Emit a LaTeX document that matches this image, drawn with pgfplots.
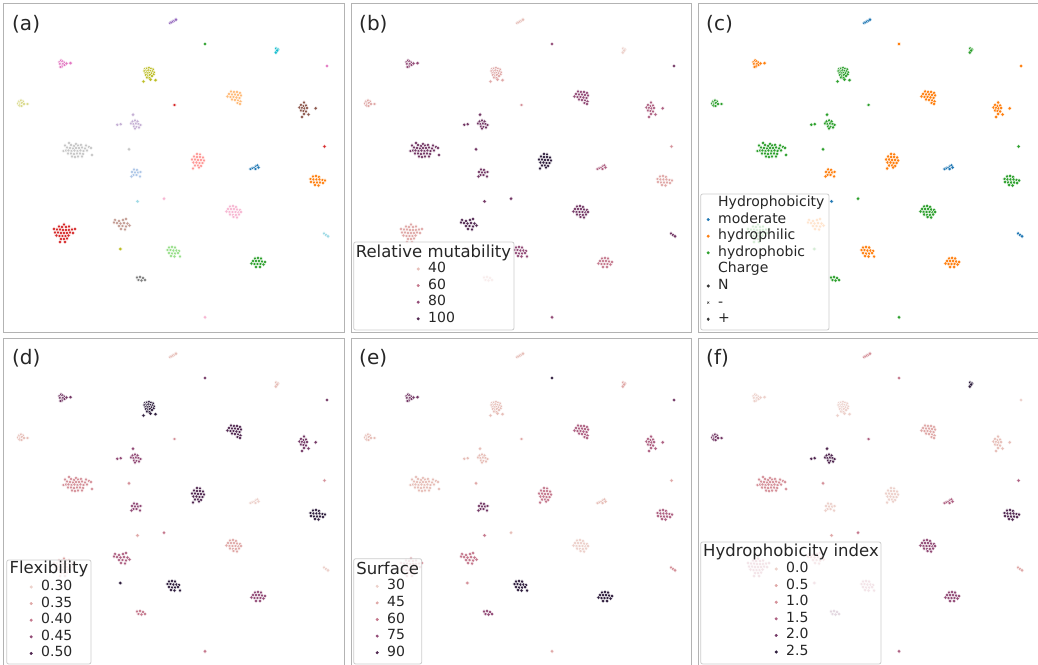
\documentclass[border=0pt]{standalone}
\usepackage{pgfplots}
\pgfplotsset{compat=1.18}
\usepackage{pgfplotstable}
\usepackage{fontspec}
\setmainfont{DejaVu Sans}
\definecolor{tabblue}{HTML}{1F77B4}
\definecolor{taborange}{HTML}{FF7F0E}
\definecolor{tabgreen}{HTML}{2CA02C}
\definecolor{tabred}{HTML}{D62728}
\definecolor{tabpurple}{HTML}{9467BD}
\definecolor{tabbrown}{HTML}{8C564B}
\definecolor{tabpink}{HTML}{E377C2}
\definecolor{tabgray}{HTML}{7F7F7F}
\definecolor{tabolive}{HTML}{BCBD22}
\definecolor{tabcyan}{HTML}{17BECF}
\definecolor{lblue}{HTML}{AEC7E8}
\definecolor{lorange}{HTML}{FFBB78}
\definecolor{lgreen}{HTML}{98DF8A}
\definecolor{lred}{HTML}{FF9896}
\definecolor{lpurple}{HTML}{C5B0D5}
\definecolor{lbrown}{HTML}{C49C94}
\definecolor{lpink}{HTML}{F7B6D2}
\definecolor{lgray}{HTML}{C7C7C7}
\definecolor{lolive}{HTML}{DBDB8D}
\definecolor{lcyan}{HTML}{9EDAE5}
\definecolor{L0}{RGB}{242,222,214}
\definecolor{L1}{RGB}{237,209,203}
\definecolor{L2}{RGB}{231,190,184}
\definecolor{L3}{RGB}{224,168,167}
\definecolor{L4}{RGB}{213,144,153}
\definecolor{L5}{RGB}{197,120,141}
\definecolor{L6}{RGB}{174,96,130}
\definecolor{L7}{RGB}{146,74,118}
\definecolor{L8}{RGB}{115,55,101}
\definecolor{L9}{RGB}{80,38,80}
\definecolor{L10}{RGB}{45,28,60}
\definecolor{txt}{HTML}{262626}
\definecolor{dkgray}{HTML}{333333}
\definecolor{framegray}{HTML}{B3B3B3}
\definecolor{legframe}{HTML}{CCCCCC}

\pgfplotstableread{
x y k
166 19 1
167.5 18.2 1
169 17.3 1
170.5 16.5 1
172 15.6 1
201 40 2
272 44.5 3
273.8 45.5 3
272.6 47 3
271.8 48.5 3
273.2 46.5 3
323 62 4
55.5 58 5
57 56.5 5
58.5 57.5 5
60 58.5 5
56 60 5
57.5 61 5
59 60 5
60.5 61 5
58 62.5 5
56.5 63 5
62.5 59.5 5
66.5 59.2 5
141 65 6
143 64.5 6
145 64 6
147 64.8 6
149 65.5 6
140.5 67 6
142.5 67 6
144.5 66.5 6
146.5 67 6
148.5 67.5 6
150 68.5 6
141.5 69 6
143.5 69 6
145.5 69 6
147.5 69.5 6
149.5 70.5 6
142 71 6
144 71.5 6
146 71 6
148 72 6
143 73.5 6
145.5 74 6
139.5 77.5 6
146.5 75.7 6
151.5 76.2 6
15 97.5 7
17 96.5 7
19 97.5 7
14 99.5 7
16 99.5 7
18 99 7
20 100 7
15.5 101.5 7
17.5 102 7
23.5 100 7
170.5 101 8
227 87.5 9
230 88 9
233 88 9
236 89 9
225 90 9
228 90.5 9
231 90.5 9
234 91 9
237 91.5 9
223.5 92.5 9
226.5 93 9
229.5 93 9
232.5 93.5 9
235.5 94 9
228 95.5 9
231 96 9
234 96.5 9
236.5 97.5 9
233.5 99 9
236 100 9
300 98.5 10
297 101 10
299.5 102 10
302 101.5 10
295.5 103.5 10
298 104 10
300.5 104.5 10
303 104 10
297 106.5 10
299.5 107 10
302 107.5 10
300 110 10
304.5 110.5 10
298 113 10
311.7 104.3 10
129 110.7 11
113.3 120.8 11
116.7 120.2 11
128.5 117.5 11
131 116.5 11
133.5 117.5 11
127 119.5 11
129.5 120 11
132 119.5 11
134.5 120 11
136.5 121 11
130 122.5 11
132.5 123 11
135 123.5 11
131 124.5 11
125 145.3 12
65 139 13
72 140 13
61 141.5 13
67 141 13
70 142 13
74 141.5 13
77 141 13
82 141.5 13
85 143 13
63 143.5 13
66 144 13
69 144.5 13
72 144 13
75 144 13
78 143.5 13
81 144.5 13
87 144 13
59.5 147 13
62 146.5 13
64.5 146.5 13
67.5 147 13
70.5 146.5 13
73.5 147 13
76.5 146.5 13
79.5 147 13
83 146.5 13
64 149.5 13
67 149.5 13
70 150 13
73 149.5 13
76 149.5 13
79 150 13
88 151 13
68 152.5 13
71 153 13
74 152.5 13
78 152.5 13
193 150 14
196 150.5 14
190 152.5 14
193 153 14
196 153 14
199 153.5 14
188 155.5 14
191 155.5 14
194 156 14
197 156 14
200 156.5 14
189.5 158.5 14
192.5 158.5 14
195.5 159 14
198.5 159 14
191 161.5 14
194 161.5 14
197 162 14
189 164.5 14
195 163.5 14
320.5 142.5 15
246.5 165 16
248.5 164 16
250.5 163.5 16
252 162 16
253.5 161.5 16
254.5 163.5 16
251.5 165 16
130 165.5 17
133 166 17
128 168 17
131 168.5 17
134 168.5 17
136.5 168 17
129.5 171 17
132.5 171 17
136 172.5 17
127.5 172.5 17
309 172.5 18
312 172 18
315 173 18
306.5 175 18
309.5 175.5 18
312.5 175.5 18
315.5 175.5 18
318.5 176 18
321 176.5 18
307 178 18
310 178.5 18
313 178.5 18
316 178.5 18
319 179 18
311 181 18
314.5 181.5 18
160 194.7 19
133.5 197.3 20
226 202.5 21
229 202 21
232 203 21
224 205 21
227 205 21
230 205 21
233 205.5 21
236 206 21
222.5 207.5 21
225.5 208 21
228.5 208 21
231.5 208 21
234.5 208.5 21
226 210.5 21
229 211 21
232 211 21
235 210.5 21
229.5 213 21
233 213.5 21
237 208 21
111 216 22
115 217 22
119 216 22
122 215 22
113 219 22
116.5 219.5 22
120 219 22
123.5 219.5 22
110 218.5 22
115 222 22
118.5 222 22
122 222.5 22
125.5 221.5 22
117 225 22
121 225.5 22
60 220.5 23
55 222.5 23
58 223 23
62 223 23
65 222.5 23
50 225 23
53 225.5 23
56 225.5 23
59 226 23
62 226 23
65 226 23
68 225.5 23
71 225 23
51 228.5 23
54 228.5 23
57 229 23
60 229 23
63 229 23
66 228.5 23
69 229 23
52.5 231.5 23
55.5 232 23
58.5 232 23
61.5 232 23
64.5 231.5 23
57 235 23
60 235 23
63 234.5 23
56 238 23
61 238 23
320 229.5 24
322 231 24
324 232.3 24
165 243.5 25
168 243 25
171 243.5 25
163.5 246 25
166.5 246 25
169.5 246.5 25
172.5 246.5 25
175 247 25
165 249 25
168 249.5 25
171 249.5 25
174 249 25
167 252 25
170.5 252.5 25
176 252.5 25
116.3 245 26
251 254.5 27
254 254 27
257 254.5 27
249 257 27
252 257 27
255 257 27
258 257.5 27
261 258 27
247.5 259.5 27
250.5 260 27
253.5 260 27
256.5 260 27
259.5 260.5 27
252 263 27
256 263 27
133 273.5 28
136 273 28
139 274 28
134.5 276 28
137.5 276.5 28
141 276 28
201 313.3 29
}\pts

\pgfplotsset{
  panel/.style={width=340pt,height=328pt,scale only axis,
    xmin=0,xmax=340,ymin=0,ymax=328,y dir=reverse,
    xtick=\empty,ytick=\empty,
    axis line style={draw=framegray,line width=1pt},
    clip=true,clip marker paths=true,
    legend cell align=left,
    legend style={draw=none,fill=none,inner sep=0pt,outer sep=0pt,
      column sep=8.5pt,row sep=3.6pt,
      font=\fontsize{14}{16}\selectfont,text=txt,
      nodes={inner sep=0pt,outer sep=0pt,text height=10pt,text depth=3pt},
      anchor=north west}},
  pts/.style={scatter,only marks,mark=*,mark size=1.95pt,draw=white,line width=0.3pt,
    scatter src=explicit symbolic,forget plot},
}
\tikzset{
  lab/.style={anchor=west,inner sep=0pt,font=\fontsize{20}{24}\selectfont,text=txt},
  ttl/.style={anchor=center,inner sep=0pt,font=\fontsize{16.5}{19}\selectfont,text=txt},
  legbox/.style={fill=white,fill opacity=0.8,draw=legframe,line width=0.8pt,rounded corners=2pt},
}
\newcommand{\lgdot}[1]{\addlegendimage{legend image code/.code={\fill[#1] (0pt,0pt) circle (1.3pt);}}}

\begin{document}
\begin{tikzpicture}
\path[use as bounding box] (0,0) rectangle (1038pt,664pt);

% (a)
\begin{axis}[panel,at={(4pt,660pt)},anchor=north west]
\addplot[pts,scatter/classes={
1={fill=tabpurple},2={fill=tabgreen},3={fill=tabcyan},4={fill=tabpink},5={fill=tabpink},
6={fill=tabolive},7={fill=lolive},8={fill=tabred},9={fill=lorange},10={fill=tabbrown},
11={fill=lpurple},12={fill=lgray},13={fill=lgray},14={fill=lred},15={fill=tabred},
16={fill=tabblue},17={fill=lblue},18={fill=taborange},19={fill=lpink},20={fill=lcyan},
21={fill=lpink},22={fill=lbrown},23={fill=tabred},24={fill=lcyan},25={fill=lgreen},
26={fill=tabolive},27={fill=tabgreen},28={fill=tabgray},29={fill=lpink}}]
table[x=x,y=y,meta=k]{\pts};
\node[lab] at (axis cs:8,20.5) {(a)};
\end{axis}

% (b)
\begin{axis}[panel,at={(351pt,660pt)},anchor=north west,
  legend style={at={(axis cs:65.7,258.5)}}]
\addplot[pts,scatter/classes={
1={fill=L2},2={fill=L7},3={fill=L1},4={fill=L8},5={fill=L7},
6={fill=L3},7={fill=L3},8={fill=L4},9={fill=L7},10={fill=L6},
11={fill=L8},12={fill=L8},13={fill=L8},14={fill=L10},15={fill=L4},
16={fill=L6},17={fill=L8},18={fill=L3},19={fill=L8},20={fill=L8},
21={fill=L8},22={fill=L9},23={fill=L3},24={fill=L8},25={fill=L7},
26={fill=L7},27={fill=L5},28={fill=L3},29={fill=L7}}]
table[x=x,y=y,meta=k]{\pts};
\node[lab] at (axis cs:8,20.5) {(b)};
\draw[legbox] (axis cs:2.7,238) rectangle (axis cs:163,326);
\node[ttl] at (axis cs:82.5,248.5) {Relative mutability};
\lgdot{L2}\addlegendentry{40}
\lgdot{L5}\addlegendentry{60}
\lgdot{L7}\addlegendentry{80}
\lgdot{L9}\addlegendentry{100}
\end{axis}

% (c)
\begin{axis}[panel,at={(698pt,660pt)},anchor=north west,
  legend style={at={(axis cs:8.7,192.5)}}]
\addplot[pts,scatter/classes={
1={fill=tabblue},2={mark=x,draw=taborange,line width=0.8pt,mark size=1.7pt},3={fill=tabgreen},4={fill=taborange},5={fill=taborange},
6={fill=tabgreen},7={fill=tabgreen},8={fill=tabgreen},9={fill=taborange},10={fill=taborange},
11={fill=tabgreen},12={fill=tabgreen},13={fill=tabgreen},14={fill=taborange},15={fill=tabgreen},
16={fill=tabblue},17={fill=taborange},18={fill=tabgreen},19={fill=tabgreen},20={fill=tabblue},
21={fill=tabgreen},22={fill=taborange},23={fill=tabgreen},24={fill=tabblue},25={fill=taborange},
26={fill=tabgreen},27={fill=taborange},28={fill=tabgreen},29={fill=tabgreen}}]
table[x=x,y=y,meta=k]{\pts};
\node[lab] at (axis cs:8,20.5) {(c)};
\draw[legbox] (axis cs:2.7,190) rectangle (axis cs:131,326);
\addlegendimage{empty legend}\addlegendentry{Hydrophobicity}
\lgdot{tabblue}\addlegendentry{moderate}
\lgdot{taborange}\addlegendentry{hydrophilic}
\lgdot{tabgreen}\addlegendentry{hydrophobic}
\addlegendimage{empty legend}\addlegendentry{Charge}
\lgdot{dkgray}\addlegendentry{N}
\addlegendimage{legend image code/.code={\draw[dkgray,line width=0.5pt] (-1pt,-1pt)--(1pt,1pt) (-1pt,1pt)--(1pt,-1pt);}}\addlegendentry{-}
\addlegendimage{legend image code/.code={\fill[dkgray] (0pt,1.4pt)--(1.2pt,0pt)--(0pt,-1.4pt)--(-1.2pt,0pt)--cycle;}}\addlegendentry{+}
\end{axis}

% (d)
\begin{axis}[panel,at={(4pt,326pt)},anchor=north west,
  legend style={at={(axis cs:25.7,242.5)}}]
\addplot[pts,scatter/classes={
1={fill=L2},2={fill=L8},3={fill=L2},4={fill=L8},5={fill=L8},
6={fill=L10},7={fill=L2},8={fill=L4},9={fill=L9},10={fill=L8},
11={fill=L7},12={fill=L4},13={fill=L4},14={fill=L9},15={fill=L4},
16={fill=L1},17={fill=L7},18={fill=L10},19={fill=L5},20={fill=L3},
21={fill=L3},22={fill=L6},23={fill=L3},24={fill=L1},25={fill=L10},
26={fill=L10},27={fill=L7},28={fill=L5},29={fill=L5}}]
table[x=x,y=y,meta=k]{\pts};
\node[lab] at (axis cs:8,20.5) {(d)};
\draw[legbox] (axis cs:2.7,222) rectangle (axis cs:87,326);
\node[ttl] at (axis cs:45,231) {Flexibility};
\lgdot{L1}\addlegendentry{0.30}
\lgdot{L3}\addlegendentry{0.35}
\lgdot{L5}\addlegendentry{0.40}
\lgdot{L7}\addlegendentry{0.45}
\lgdot{L9}\addlegendentry{0.50}
\end{axis}

% (e)
\begin{axis}[panel,at={(351pt,326pt)},anchor=north west,
  legend style={at={(axis cs:24.7,241.8)}}]
\addplot[pts,scatter/classes={
1={fill=L2},2={fill=L10},3={fill=L3},4={fill=L8},5={fill=L8},
6={fill=L2},7={fill=L2},8={fill=L3},9={fill=L6},10={fill=L6},
11={fill=L2},12={fill=L3},13={fill=L2},14={fill=L5},15={fill=L3},
16={fill=L2},17={fill=L8},18={fill=L6},19={fill=L2},20={fill=L5},
21={fill=L1},22={fill=L5},23={fill=L4},24={fill=L4},25={fill=L10},
26={fill=L4},27={fill=L10},28={fill=L7},29={fill=L3}}]
table[x=x,y=y,meta=k]{\pts};
\node[lab] at (axis cs:8,20.5) {(e)};
\draw[legbox] (axis cs:2.7,220.7) rectangle (axis cs:70.7,326);
\node[ttl] at (axis cs:36.7,230.7) {Surface};
\lgdot{L1}\addlegendentry{30}
\lgdot{L3}\addlegendentry{45}
\lgdot{L5}\addlegendentry{60}
\lgdot{L7}\addlegendentry{75}
\lgdot{L9}\addlegendentry{90}
\end{axis}

% (f)
\begin{axis}[panel,at={(698pt,326pt)},anchor=north west,
  legend style={at={(axis cs:76.7,224.5)}}]
\addplot[pts,scatter/classes={
1={fill=L4},2={fill=L5},3={fill=L10},4={fill=L1},5={fill=L1},
6={fill=L1},7={fill=L8},8={fill=L6},9={fill=L3},10={fill=L2},
11={fill=L9},12={fill=L4},13={fill=L4},14={fill=L1},15={fill=L6},
16={fill=L6},17={fill=L1},18={fill=L9},19={fill=L5},20={fill=L3},
21={fill=L7},22={fill=L4},23={fill=L5},24={fill=L3},25={fill=L5},
26={fill=L5},27={fill=L7},28={fill=L8},29={fill=L6}}]
table[x=x,y=y,meta=k]{\pts};
\node[lab] at (axis cs:8,20.5) {(f)};
\draw[legbox] (axis cs:2.7,204) rectangle (axis cs:183,326);
\node[ttl] at (axis cs:93,214) {Hydrophobicity index};
\lgdot{L1}\addlegendentry{0.0}
\lgdot{L3}\addlegendentry{0.5}
\lgdot{L4}\addlegendentry{1.0}
\lgdot{L6}\addlegendentry{1.5}
\lgdot{L8}\addlegendentry{2.0}
\lgdot{L10}\addlegendentry{2.5}
\end{axis}
\end{tikzpicture}
\end{document}
